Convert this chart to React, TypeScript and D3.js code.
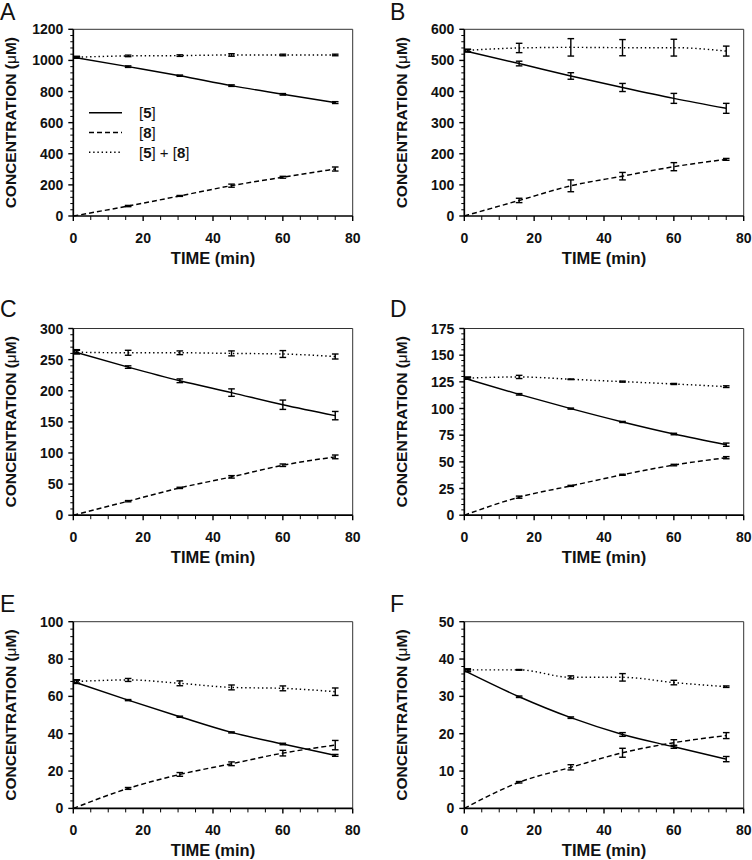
import React from 'react';
import * as d3 from 'd3';

const TIME = [1, 15.7, 30.5, 45.3, 60, 75];
const PANEL_LABELS = ['A', 'B', 'C', 'D', 'E', 'F'];
const Y_MAX = [1200, 600, 300, 175, 100, 50];
const Y_STEP = [200, 100, 50, 25, 20, 10];
const X_TICKS = [0, 20, 40, 60, 80];

// [5]
const A_5 = [1020, 960, 902, 838, 782, 729];
const A_5_ERR = [5, 5, 4, 5, 5, 6];
const B_5 = [531, 490, 450, 413, 378, 346];
const B_5_ERR = [4, 7.5, 10.5, 13, 16, 16];
const C_5 = [263, 238, 216, 197, 177.5, 160];
const C_5_ERR = [3, 2, 3, 6, 7.5, 6.7];
const D_5 = [128.4, 113.3, 99.9, 87.4, 76.1, 66.1];
const D_5_ERR = [1, 0.7, 0.5, 0.5, 0.7, 1.5];
const E_5 = [67.9, 58, 49.1, 40.7, 34.5, 28.4];
const E_5_ERR = [0.8, 0.3, 0.3, 0.3, 0.4, 0.5];
const F_5 = [36.9, 29.9, 24.3, 19.8, 16.5, 13.2];
const F_5_ERR = [0.3, 0.2, 0.2, 0.5, 0.4, 0.7];

// [8]
const A_8 = [0, 64, 129, 195, 249, 302];
const A_8_ERR = [0, 4, 3, 10, 6, 13];
const B_8 = [0, 50, 97, 128, 158.5, 182];
const B_8_ERR = [0, 7, 19, 12, 13, 3];
const C_8 = [0, 22.5, 43.9, 61.6, 80.3, 93.7];
const C_8_ERR = [0, 1, 1, 2, 2, 3];
const D_8 = [0, 16.9, 27.5, 37.9, 47, 53.9];
const D_8_ERR = [0, 1, 0.5, 0.5, 0.7, 1];
const E_8 = [0, 10.7, 18.2, 23.9, 29.6, 33.9];
const E_8_ERR = [0, 0.5, 1, 1, 1.5, 2.5];
const F_8 = [0, 7.0, 11.0, 14.9, 17.6, 19.5];
const F_8_ERR = [0, 0.2, 0.7, 1.2, 0.8, 0.8];

// [5] + [8]
const A_SUM = [1020, 1029, 1031, 1035, 1035, 1035];
const A_SUM_ERR = [6, 5, 5, 8, 5, 5];
const B_SUM = [532, 540, 542, 541, 541, 530];
const B_SUM_ERR = [4, 15, 28, 26, 27, 16];
const C_SUM = [262, 261, 261, 260, 259, 255];
const C_SUM_ERR = [3, 4, 3, 4, 5.5, 4];
const D_SUM = [128.4, 129.6, 127.4, 125.2, 123, 120.5];
const D_SUM_ERR = [1, 1.5, 0.3, 0.5, 0.5, 0.8];
const E_SUM = [67.9, 68.8, 67, 64.8, 64.3, 62.5];
const E_SUM_ERR = [1, 0.8, 1.3, 1.3, 1.3, 2];
const F_SUM = [37.1, 37.1, 35.1, 35.1, 33.7, 32.6];
const F_SUM_ERR = [0.3, 0.1, 0.4, 1, 0.6, 0.2];

const SERIES_5 = [A_5, B_5, C_5, D_5, E_5, F_5];
const SERIES_5_ERR = [A_5_ERR, B_5_ERR, C_5_ERR, D_5_ERR, E_5_ERR, F_5_ERR];
const SERIES_8 = [A_8, B_8, C_8, D_8, E_8, F_8];
const SERIES_8_ERR = [A_8_ERR, B_8_ERR, C_8_ERR, D_8_ERR, E_8_ERR, F_8_ERR];
const SERIES_SUM = [A_SUM, B_SUM, C_SUM, D_SUM, E_SUM, F_SUM];
const SERIES_SUM_ERR = [A_SUM_ERR, B_SUM_ERR, C_SUM_ERR, D_SUM_ERR, E_SUM_ERR, F_SUM_ERR];

const DASH_8 = '5,3';
const DOT_SUM = '1.4,2.8';

const LEGEND = [
  { num: ['5'], dash: null },
  { num: ['8'], dash: DASH_8 },
  { num: ['5', '8'], dash: DOT_SUM },
];

const FONT = '"Liberation Sans", Arial, Helvetica, sans-serif';
const COL_X = [73.3, 464.3];
const ROW_Y = [29.3, 328.5, 621.7];
const PW = 279.4;
const PH = 186.7;

function Panel({ idx }: { idx: number }) {
  const left = COL_X[idx % 2];
  const top = ROW_Y[Math.floor(idx / 2)];
  const x = d3.scaleLinear().domain([0, 80]).range([left, left + PW]);
  const y = d3.scaleLinear().domain([0, Y_MAX[idx]]).range([top + PH, top]);
  const yMajor = d3.range(0, Y_MAX[idx] + 1e-9, Y_STEP[idx]);
  const yMinor = d3.range(0, Y_MAX[idx] + 1e-9, Y_STEP[idx] / 5).filter(v => !yMajor.some(m => Math.abs(m - v) < 1e-6));
  const xMinor = d3.range(0, 81, 5).filter(v => v % 20 !== 0);
  const bottom = top + PH;

  const series = [
    { vals: SERIES_5[idx], err: SERIES_5_ERR[idx], dash: null },
    { vals: SERIES_8[idx], err: SERIES_8_ERR[idx], dash: DASH_8 },
    { vals: SERIES_SUM[idx], err: SERIES_SUM_ERR[idx], dash: DOT_SUM },
  ];

  const line = d3.line<[number, number]>()
    .x(d => x(d[0]))
    .y(d => y(d[1]))
    .curve(d3.curveMonotoneX);

  const labelX = idx % 2 === 0 ? 0 : 390;
  const labelY = [20, 316.7, 611.7][Math.floor(idx / 2)];

  return (
    <g>
      <text x={labelX} y={labelY} fontSize={23} fontFamily={FONT} fill="#111">{PANEL_LABELS[idx]}</text>
      <line x1={left} x2={left + PW} y1={top} y2={top} stroke="#333" strokeWidth={1} />
      <line x1={left + PW} x2={left + PW} y1={top} y2={bottom} stroke="#333" strokeWidth={1} />
      {series.map((s, i) => {
        const pts: [number, number][] = s.vals.map((v, j) => [j === 0 ? 0 : TIME[j], v]);
        return (
          <path key={i} d={line(pts) || ''} fill="none" stroke="#000" strokeWidth={1.45}
            strokeDasharray={s.dash || undefined} />
        );
      })}
      {series.map((s, i) => (
        <g key={'e' + i}>
          {s.vals.map((v, j) => {
            if (s.err[j] <= 0) return null;
            const cx = x(TIME[j]);
            const y1 = y(v + s.err[j]);
            const y2 = y(v - s.err[j]);
            return (
              <g key={j} stroke="#000" strokeWidth={1.4}>
                <line x1={cx} x2={cx} y1={y1} y2={y2} />
                <line x1={cx - 3.3} x2={cx + 3.3} y1={y1} y2={y1} />
                <line x1={cx - 3.3} x2={cx + 3.3} y1={y2} y2={y2} />
              </g>
            );
          })}
        </g>
      ))}
      <line x1={left} x2={left} y1={top} y2={bottom} stroke="#000" strokeWidth={1.7} />
      <line x1={left} x2={left + PW} y1={bottom} y2={bottom} stroke="#000" strokeWidth={1.7} />
      {yMajor.map(v => (
        <g key={'ym' + v}>
          <line x1={left - 5} x2={left} y1={y(v)} y2={y(v)} stroke="#000" strokeWidth={1.4} />
          <text x={left - 10} y={y(v)} dy="0.36em" textAnchor="end" fontSize={14} fontWeight="bold" fontFamily={FONT} fill="#111">{v}</text>
        </g>
      ))}
      {yMinor.map(v => (
        <line key={'yn' + v} x1={left - 3} x2={left} y1={y(v)} y2={y(v)} stroke="#000" strokeWidth={1} />
      ))}
      {X_TICKS.map(v => (
        <g key={'xm' + v}>
          <line x1={x(v)} x2={x(v)} y1={bottom} y2={bottom + 5} stroke="#000" strokeWidth={1.4} />
          <text x={x(v)} y={bottom + 26.5} textAnchor="middle" fontSize={14} fontWeight="bold" fontFamily={FONT} fill="#111">{v}</text>
        </g>
      ))}
      {xMinor.map(v => (
        <line key={'xn' + v} x1={x(v)} x2={x(v)} y1={bottom} y2={bottom + 4} stroke="#000" strokeWidth={1} />
      ))}
      <text x={left + PW / 2} y={bottom + 47.5} textAnchor="middle" fontSize={16.5} fontWeight="bold" fontFamily={FONT} fill="#111">TIME (min)</text>
      <text transform={`translate(${left - 57},${top + PH / 2}) rotate(-90)`} textAnchor="middle" fontSize={15.5} fontWeight="bold" fontFamily={FONT} fill="#111">
        CONCENTRATION (<tspan fontWeight="normal">μ</tspan>M)
      </text>
      {idx === 0 && LEGEND.map((l, i) => {
        const ly = 112.7 + i * 19.8;
        return (
          <g key={'lg' + i}>
            <line x1={89} x2={122} y1={ly} y2={ly} stroke="#000" strokeWidth={1.4} strokeDasharray={l.dash || undefined} />
            <text x={139} y={ly} dy="0.36em" fontSize={15} fontFamily={FONT} fill="#111">
              {l.num.length === 1 ? (
                <>[<tspan fontWeight="bold">{l.num[0]}</tspan>]</>
              ) : (
                <>[<tspan fontWeight="bold">{l.num[0]}</tspan>] + [<tspan fontWeight="bold">{l.num[1]}</tspan>]</>
              )}
            </text>
          </g>
        );
      })}
    </g>
  );
}

export default function App() {
  return (
    <svg width={752} height={860} style={{ position: 'absolute', left: 0, top: 0, background: '#fff' }}>
      <rect width={752} height={860} fill="#fff" />
      {PANEL_LABELS.map((_, i) => <Panel key={i} idx={i} />)}
    </svg>
  );
}
